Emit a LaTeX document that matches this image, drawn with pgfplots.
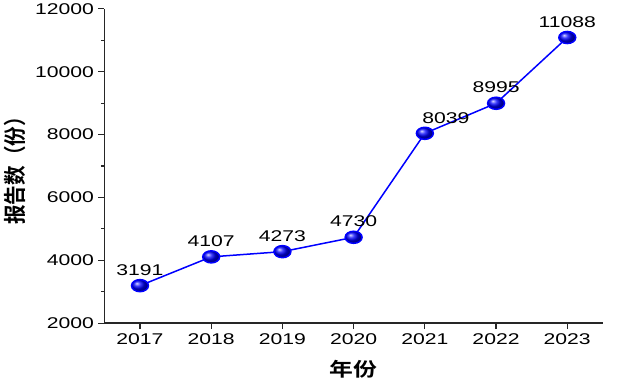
\documentclass[border=0pt]{standalone}
\usepackage{pgfplots}
\pgfplotsset{compat=1.18}
\usepackage{fontspec}
\setmainfont{Liberation Sans}[FakeStretch=1.36]
\newfontfamily\cjk{Noto Sans CJK SC}[FakeStretch=1.25,BoldFont={* Bold}]
\newfontfamily\cjkv{Noto Sans CJK SC}[BoldFont={* Bold}]
\begin{document}
\begin{tikzpicture}
\begin{axis}[
  scale only axis,
  width=495bp, height=312bp,
  xmin=2016.5, xmax=2023.5,
  ymin=2000, ymax=12000,
  axis x line*=bottom, axis y line*=left,
  axis line style={line width=1.2pt, black!85},
  tick align=outside,
  xtick={2017,...,2023},
  ytick={2000,4000,...,12000},
  minor y tick num=1,
  scaled y ticks=false,
  major tick length=6bp, minor tick length=3.5bp,
  tick style={line width=1.1pt, black!85},
  /pgf/number format/1000 sep={},
  /pgf/number format/assume math mode=true,
  ticklabel style={font=\fontsize{15.5}{17}\selectfont},
  xticklabel style={yshift=-1bp},
  yticklabel style={xshift=-1bp},
  xlabel={\cjk\bfseries 年份},
  ylabel={\cjkv\bfseries 报告数（份）},
  xlabel style={font=\fontsize{19}{21}\selectfont, at={(axis description cs:0.5,-0.147)}, anchor=center},
  ylabel style={font=\fontsize{19.5}{21}\selectfont, at={(axis description cs:-0.18,0.5)}, anchor=center, yscale=1.15},
  clip=false,
  nodes near coords,
  point meta=explicit symbolic,
  visualization depends on={\thisrow{dx}\as\dx},
  every node near coord/.append style={font=\fontsize{15.5}{17}\selectfont, anchor=south, yshift=6bp, xshift=\dx bp, text=black},
]
\addplot[blue, line width=1.5pt, mark=ball, mark size=6bp, mark options={ball color=blue, xscale=1.4}]
  table[meta=lab] {
x y lab dx
2017 3191 3191 0
2018 4107 4107 0
2019 4273 4273 0
2020 4730 4730 0
2021 8039 8039 21
2022 8995 8995 0
2023 11088 11088 0
};
\end{axis}
\path (current axis.east) ++(17bp,0);
\end{tikzpicture}
\end{document}
